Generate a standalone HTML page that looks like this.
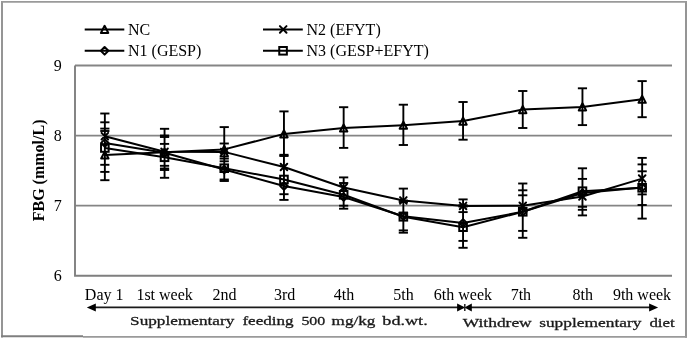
<!DOCTYPE html>
<html><head><meta charset="utf-8"><style>
html,body{margin:0;padding:0;background:#fff;}
body{width:688px;height:339px;overflow:hidden;}
svg{display:block;will-change:transform;}
.grid{stroke:#858585;stroke-width:1.8;}
.axis{stroke:#7f7f7f;stroke-width:1.9;fill:none;}
.eb{stroke:#000;stroke-width:1.9;}
.ser{stroke:#000;stroke-width:2.0;fill:none;stroke-linejoin:round;}
.mk{stroke:#000;stroke-width:2;fill:none;}
.arr{stroke:#1a1a1a;stroke-width:1.7;}
.ah{fill:#000;}
text{font-family:"Liberation Serif",serif;fill:#000;}
.t16{font-size:16px;}
.t16b{font-size:16px;font-weight:bold;}
.tb{font-size:12.5px;font-weight:normal;fill:#1a1a1a;stroke:#1a1a1a;stroke-width:0.28px;}
</style></head><body>
<svg width="688" height="339" viewBox="0 0 688 339">
<line x1="2" y1="1.1" x2="2" y2="337.5" stroke="#8a8a8a" stroke-width="1.8"/>
<line x1="686" y1="1.1" x2="686" y2="337.7" stroke="#8a8a8a" stroke-width="1.8"/>
<line x1="1.1" y1="1.85" x2="686.9" y2="1.85" stroke="#9a9a9a" stroke-width="1.8"/>
<line x1="1.1" y1="336.3" x2="83" y2="336.3" stroke="#7f7f7f" stroke-width="1.9"/>
<line x1="83" y1="336.8" x2="686.9" y2="336.8" stroke="#9a9a9a" stroke-width="1.8"/>
<line x1="75" y1="65.5" x2="672" y2="65.5" class="grid"/>
<line x1="75" y1="135.6" x2="672" y2="135.6" class="grid"/>
<line x1="75" y1="205.7" x2="672" y2="205.7" class="grid"/>
<polyline points="75,65.5 75,275.8 672,275.8" class="axis"/>
<line x1="104.85" y1="113.5" x2="104.85" y2="180.2" class="eb"/>
<line x1="100.25" y1="113.5" x2="109.45" y2="113.5" class="eb"/>
<line x1="100.25" y1="122.3" x2="109.45" y2="122.3" class="eb"/>
<line x1="100.25" y1="128.6" x2="109.45" y2="128.6" class="eb"/>
<line x1="100.25" y1="131.0" x2="109.45" y2="131.0" class="eb"/>
<line x1="100.25" y1="164.8" x2="109.45" y2="164.8" class="eb"/>
<line x1="100.25" y1="171.9" x2="109.45" y2="171.9" class="eb"/>
<line x1="100.25" y1="180.2" x2="109.45" y2="180.2" class="eb"/>
<line x1="164.55" y1="128.8" x2="164.55" y2="177.8" class="eb"/>
<line x1="159.95" y1="128.8" x2="169.15" y2="128.8" class="eb"/>
<line x1="159.95" y1="135.5" x2="169.15" y2="135.5" class="eb"/>
<line x1="159.95" y1="137.0" x2="169.15" y2="137.0" class="eb"/>
<line x1="159.95" y1="143.9" x2="169.15" y2="143.9" class="eb"/>
<line x1="159.95" y1="165.8" x2="169.15" y2="165.8" class="eb"/>
<line x1="159.95" y1="168.5" x2="169.15" y2="168.5" class="eb"/>
<line x1="159.95" y1="170.0" x2="169.15" y2="170.0" class="eb"/>
<line x1="159.95" y1="177.8" x2="169.15" y2="177.8" class="eb"/>
<line x1="224.25" y1="127.1" x2="224.25" y2="181.0" class="eb"/>
<line x1="219.65" y1="127.1" x2="228.85" y2="127.1" class="eb"/>
<line x1="219.65" y1="143.5" x2="228.85" y2="143.5" class="eb"/>
<line x1="219.65" y1="156.4" x2="228.85" y2="156.4" class="eb"/>
<line x1="219.65" y1="158.6" x2="228.85" y2="158.6" class="eb"/>
<line x1="219.65" y1="161.3" x2="228.85" y2="161.3" class="eb"/>
<line x1="219.65" y1="179.5" x2="228.85" y2="179.5" class="eb"/>
<line x1="219.65" y1="181.0" x2="228.85" y2="181.0" class="eb"/>
<line x1="283.95" y1="111.4" x2="283.95" y2="199.9" class="eb"/>
<line x1="279.35" y1="111.4" x2="288.55" y2="111.4" class="eb"/>
<line x1="279.35" y1="154.8" x2="288.55" y2="154.8" class="eb"/>
<line x1="279.35" y1="156.0" x2="288.55" y2="156.0" class="eb"/>
<line x1="279.35" y1="194.2" x2="288.55" y2="194.2" class="eb"/>
<line x1="279.35" y1="199.9" x2="288.55" y2="199.9" class="eb"/>
<line x1="343.65" y1="107.2" x2="343.65" y2="147.9" class="eb"/>
<line x1="343.65" y1="177.4" x2="343.65" y2="208.7" class="eb"/>
<line x1="339.05" y1="107.2" x2="348.25" y2="107.2" class="eb"/>
<line x1="339.05" y1="147.9" x2="348.25" y2="147.9" class="eb"/>
<line x1="339.05" y1="177.4" x2="348.25" y2="177.4" class="eb"/>
<line x1="339.05" y1="183.0" x2="348.25" y2="183.0" class="eb"/>
<line x1="339.05" y1="205.7" x2="348.25" y2="205.7" class="eb"/>
<line x1="339.05" y1="208.7" x2="348.25" y2="208.7" class="eb"/>
<line x1="403.35" y1="104.7" x2="403.35" y2="145.0" class="eb"/>
<line x1="403.35" y1="188.6" x2="403.35" y2="232.7" class="eb"/>
<line x1="398.75" y1="104.7" x2="407.95" y2="104.7" class="eb"/>
<line x1="398.75" y1="145.0" x2="407.95" y2="145.0" class="eb"/>
<line x1="398.75" y1="188.6" x2="407.95" y2="188.6" class="eb"/>
<line x1="398.75" y1="200.6" x2="407.95" y2="200.6" class="eb"/>
<line x1="398.75" y1="202.0" x2="407.95" y2="202.0" class="eb"/>
<line x1="398.75" y1="212.5" x2="407.95" y2="212.5" class="eb"/>
<line x1="398.75" y1="230.4" x2="407.95" y2="230.4" class="eb"/>
<line x1="398.75" y1="232.7" x2="407.95" y2="232.7" class="eb"/>
<line x1="463.05" y1="102.0" x2="463.05" y2="139.7" class="eb"/>
<line x1="463.05" y1="199.4" x2="463.05" y2="247.8" class="eb"/>
<line x1="458.45" y1="102.0" x2="467.65" y2="102.0" class="eb"/>
<line x1="458.45" y1="139.7" x2="467.65" y2="139.7" class="eb"/>
<line x1="458.45" y1="199.4" x2="467.65" y2="199.4" class="eb"/>
<line x1="458.45" y1="205.2" x2="467.65" y2="205.2" class="eb"/>
<line x1="458.45" y1="206.6" x2="467.65" y2="206.6" class="eb"/>
<line x1="458.45" y1="212.1" x2="467.65" y2="212.1" class="eb"/>
<line x1="458.45" y1="240.9" x2="467.65" y2="240.9" class="eb"/>
<line x1="458.45" y1="247.8" x2="467.65" y2="247.8" class="eb"/>
<line x1="522.75" y1="91.0" x2="522.75" y2="128.0" class="eb"/>
<line x1="522.75" y1="183.5" x2="522.75" y2="237.8" class="eb"/>
<line x1="518.15" y1="91.0" x2="527.35" y2="91.0" class="eb"/>
<line x1="518.15" y1="128.0" x2="527.35" y2="128.0" class="eb"/>
<line x1="518.15" y1="183.5" x2="527.35" y2="183.5" class="eb"/>
<line x1="518.15" y1="190.3" x2="527.35" y2="190.3" class="eb"/>
<line x1="518.15" y1="195.3" x2="527.35" y2="195.3" class="eb"/>
<line x1="518.15" y1="230.9" x2="527.35" y2="230.9" class="eb"/>
<line x1="518.15" y1="237.8" x2="527.35" y2="237.8" class="eb"/>
<line x1="582.45" y1="88.3" x2="582.45" y2="125.1" class="eb"/>
<line x1="582.45" y1="168.3" x2="582.45" y2="215.4" class="eb"/>
<line x1="577.85" y1="88.3" x2="587.05" y2="88.3" class="eb"/>
<line x1="577.85" y1="125.1" x2="587.05" y2="125.1" class="eb"/>
<line x1="577.85" y1="168.3" x2="587.05" y2="168.3" class="eb"/>
<line x1="577.85" y1="178.9" x2="587.05" y2="178.9" class="eb"/>
<line x1="577.85" y1="206.8" x2="587.05" y2="206.8" class="eb"/>
<line x1="577.85" y1="209.8" x2="587.05" y2="209.8" class="eb"/>
<line x1="577.85" y1="215.4" x2="587.05" y2="215.4" class="eb"/>
<line x1="642.15" y1="81.1" x2="642.15" y2="117.2" class="eb"/>
<line x1="642.15" y1="157.9" x2="642.15" y2="218.6" class="eb"/>
<line x1="637.55" y1="81.1" x2="646.75" y2="81.1" class="eb"/>
<line x1="637.55" y1="117.2" x2="646.75" y2="117.2" class="eb"/>
<line x1="637.55" y1="157.9" x2="646.75" y2="157.9" class="eb"/>
<line x1="637.55" y1="164.4" x2="646.75" y2="164.4" class="eb"/>
<line x1="637.55" y1="171.3" x2="646.75" y2="171.3" class="eb"/>
<line x1="637.55" y1="194.4" x2="646.75" y2="194.4" class="eb"/>
<line x1="637.55" y1="205.0" x2="646.75" y2="205.0" class="eb"/>
<line x1="637.55" y1="218.6" x2="646.75" y2="218.6" class="eb"/>
<polyline points="104.85,155.00 164.55,152.30 224.25,149.40 283.95,133.90 343.65,128.00 403.35,125.20 463.05,121.10 522.75,109.60 582.45,106.90 642.15,99.30" class="ser"/>
<polyline points="104.85,136.20 164.55,151.80 224.25,151.90 283.95,167.00 343.65,187.50 403.35,200.40 463.05,205.90 522.75,205.80 582.45,196.50 642.15,178.60" class="ser"/>
<polyline points="104.85,143.00 164.55,152.80 224.25,169.50 283.95,186.00 343.65,197.00 403.35,216.20 463.05,223.00 522.75,211.80 582.45,193.00 642.15,187.50" class="ser"/>
<polyline points="104.85,148.00 164.55,157.30 224.25,168.20 283.95,179.50 343.65,194.80 403.35,216.80 463.05,227.20 522.75,211.80 582.45,191.20 642.15,187.80" class="ser"/>
<path d="M104.85,151.40 L108.55,158.55 L101.15,158.55 Z" class="mk" stroke-linejoin="round"/>
<path d="M164.55,148.70 L168.25,155.85 L160.85,155.85 Z" class="mk" stroke-linejoin="round"/>
<path d="M224.25,145.80 L227.95,152.95 L220.55,152.95 Z" class="mk" stroke-linejoin="round"/>
<path d="M283.95,130.30 L287.65,137.45 L280.25,137.45 Z" class="mk" stroke-linejoin="round"/>
<path d="M343.65,124.40 L347.35,131.55 L339.95,131.55 Z" class="mk" stroke-linejoin="round"/>
<path d="M403.35,121.60 L407.05,128.75 L399.65,128.75 Z" class="mk" stroke-linejoin="round"/>
<path d="M463.05,117.50 L466.75,124.65 L459.35,124.65 Z" class="mk" stroke-linejoin="round"/>
<path d="M522.75,106.00 L526.45,113.15 L519.05,113.15 Z" class="mk" stroke-linejoin="round"/>
<path d="M582.45,103.30 L586.15,110.45 L578.75,110.45 Z" class="mk" stroke-linejoin="round"/>
<path d="M642.15,95.70 L645.85,102.85 L638.45,102.85 Z" class="mk" stroke-linejoin="round"/>
<path d="M101.55,132.90 L108.15,139.50 M108.15,132.90 L101.55,139.50" class="mk" stroke-width="2.3" stroke-linecap="round"/>
<path d="M161.25,148.50 L167.85,155.10 M167.85,148.50 L161.25,155.10" class="mk" stroke-width="2.3" stroke-linecap="round"/>
<path d="M220.95,148.60 L227.55,155.20 M227.55,148.60 L220.95,155.20" class="mk" stroke-width="2.3" stroke-linecap="round"/>
<path d="M280.65,163.70 L287.25,170.30 M287.25,163.70 L280.65,170.30" class="mk" stroke-width="2.3" stroke-linecap="round"/>
<path d="M340.35,184.20 L346.95,190.80 M346.95,184.20 L340.35,190.80" class="mk" stroke-width="2.3" stroke-linecap="round"/>
<path d="M400.05,197.10 L406.65,203.70 M406.65,197.10 L400.05,203.70" class="mk" stroke-width="2.3" stroke-linecap="round"/>
<path d="M459.75,202.60 L466.35,209.20 M466.35,202.60 L459.75,209.20" class="mk" stroke-width="2.3" stroke-linecap="round"/>
<path d="M519.45,202.50 L526.05,209.10 M526.05,202.50 L519.45,209.10" class="mk" stroke-width="2.3" stroke-linecap="round"/>
<path d="M579.15,193.20 L585.75,199.80 M585.75,193.20 L579.15,199.80" class="mk" stroke-width="2.3" stroke-linecap="round"/>
<path d="M638.85,175.30 L645.45,181.90 M645.45,175.30 L638.85,181.90" class="mk" stroke-width="2.3" stroke-linecap="round"/>
<path d="M104.85,139.15 L108.60,143.00 L104.85,146.85 L101.10,143.00 Z" class="mk" stroke-linejoin="round"/>
<path d="M164.55,148.95 L168.30,152.80 L164.55,156.65 L160.80,152.80 Z" class="mk" stroke-linejoin="round"/>
<path d="M224.25,165.65 L228.00,169.50 L224.25,173.35 L220.50,169.50 Z" class="mk" stroke-linejoin="round"/>
<path d="M283.95,182.15 L287.70,186.00 L283.95,189.85 L280.20,186.00 Z" class="mk" stroke-linejoin="round"/>
<path d="M343.65,193.15 L347.40,197.00 L343.65,200.85 L339.90,197.00 Z" class="mk" stroke-linejoin="round"/>
<path d="M403.35,212.35 L407.10,216.20 L403.35,220.05 L399.60,216.20 Z" class="mk" stroke-linejoin="round"/>
<path d="M463.05,219.15 L466.80,223.00 L463.05,226.85 L459.30,223.00 Z" class="mk" stroke-linejoin="round"/>
<path d="M522.75,207.95 L526.50,211.80 L522.75,215.65 L519.00,211.80 Z" class="mk" stroke-linejoin="round"/>
<path d="M582.45,189.15 L586.20,193.00 L582.45,196.85 L578.70,193.00 Z" class="mk" stroke-linejoin="round"/>
<path d="M642.15,183.65 L645.90,187.50 L642.15,191.35 L638.40,187.50 Z" class="mk" stroke-linejoin="round"/>
<rect x="101.05" y="144.20" width="7.60" height="7.60" class="mk"/>
<rect x="160.75" y="153.50" width="7.60" height="7.60" class="mk"/>
<rect x="220.45" y="164.40" width="7.60" height="7.60" class="mk"/>
<rect x="280.15" y="175.70" width="7.60" height="7.60" class="mk"/>
<rect x="339.85" y="191.00" width="7.60" height="7.60" class="mk"/>
<rect x="399.55" y="213.00" width="7.60" height="7.60" class="mk"/>
<rect x="459.25" y="223.40" width="7.60" height="7.60" class="mk"/>
<rect x="518.95" y="208.00" width="7.60" height="7.60" class="mk"/>
<rect x="578.65" y="187.40" width="7.60" height="7.60" class="mk"/>
<rect x="638.35" y="184.00" width="7.60" height="7.60" class="mk"/>
<line x1="84.7" y1="29.4" x2="124.3" y2="29.4" class="ser"/>
<path d="M104.60,25.80 L108.30,32.95 L100.90,32.95 Z" class="mk" stroke-linejoin="round"/>
<text x="128" y="34.9" class="t16">NC</text>
<line x1="84.7" y1="50.8" x2="124.3" y2="50.8" class="ser"/>
<path d="M104.60,46.95 L108.35,50.80 L104.60,54.65 L100.85,50.80 Z" class="mk" stroke-linejoin="round"/>
<text x="128" y="55.8" class="t16">N1 (GESP)</text>
<line x1="263" y1="29.4" x2="302.8" y2="29.4" class="ser"/>
<path d="M279.90,26.10 L286.50,32.70 M286.50,26.10 L279.90,32.70" class="mk" stroke-width="2.3" stroke-linecap="round"/>
<text x="306.5" y="34.9" class="t16">N2 (EFYT)</text>
<line x1="263" y1="50.8" x2="302.8" y2="50.8" class="ser"/>
<rect x="279.25" y="47.00" width="7.60" height="7.60" class="mk"/>
<text x="306.5" y="55.8" class="t16">N3 (GESP+EFYT)</text>
<text x="61.8" y="70.9" class="t16" text-anchor="end">9</text>
<text x="61.8" y="141.0" class="t16" text-anchor="end">8</text>
<text x="61.8" y="211.1" class="t16" text-anchor="end">7</text>
<text x="61.8" y="281.2" class="t16" text-anchor="end">6</text>
<text transform="translate(44.2,170.4) rotate(-90)" class="t16b" text-anchor="middle">FBG (mmol/L)</text>
<text x="104.2" y="300" class="t16" text-anchor="middle">Day 1</text>
<text x="164.6" y="300" class="t16" text-anchor="middle">1st week</text>
<text x="224.4" y="300" class="t16" text-anchor="middle">2nd</text>
<text x="284.6" y="300" class="t16" text-anchor="middle">3rd</text>
<text x="344.0" y="300" class="t16" text-anchor="middle">4th</text>
<text x="403.5" y="300" class="t16" text-anchor="middle">5th</text>
<text x="462.9" y="300" class="t16" text-anchor="middle">6th week</text>
<text x="520.9" y="300" class="t16" text-anchor="middle">7th</text>
<text x="582.7" y="300" class="t16" text-anchor="middle">8th</text>
<text x="642.0" y="300" class="t16" text-anchor="middle">9th week</text>
<line x1="92" y1="307.4" x2="460" y2="307.4" class="arr"/>
<line x1="468" y1="307.4" x2="652" y2="307.4" class="arr"/>
<path d="M86.8,307.5 L95.8,303.4 L95.8,311.6 Z" class="ah"/>
<path d="M465.2,307.5 L457.1,303.4 L457.1,311.6 Z" class="ah"/>
<path d="M464.4,307.5 L471.8,303.4 L471.8,311.6 Z" class="ah"/>
<line x1="464.8" y1="304.0" x2="464.8" y2="311.0" stroke="#222" stroke-width="1.5"/>
<path d="M658.1,307.5 L649.1,303.5 L649.1,311.6 Z" class="ah"/>
<text x="130.1" y="325.4" class="tb" textLength="104.2" lengthAdjust="spacingAndGlyphs">Supplementary</text>
<text x="242.4" y="325.4" class="tb" textLength="51.2" lengthAdjust="spacingAndGlyphs">feeding</text>
<text x="301.4" y="325.4" class="tb" textLength="23.9" lengthAdjust="spacingAndGlyphs">500</text>
<text x="331.6" y="325.4" class="tb" textLength="43.7" lengthAdjust="spacingAndGlyphs">mg/kg</text>
<text x="382.3" y="325.4" class="tb" textLength="45.4" lengthAdjust="spacingAndGlyphs">bd.wt.</text>
<text x="462.8" y="326.8" class="tb" textLength="68.9" lengthAdjust="spacingAndGlyphs">Withdrew</text>
<text x="539.2" y="326.8" class="tb" textLength="102.2" lengthAdjust="spacingAndGlyphs">supplementary</text>
<text x="649.4" y="326.8" class="tb" textLength="25.3" lengthAdjust="spacingAndGlyphs">diet</text>
</svg>
</body></html>
